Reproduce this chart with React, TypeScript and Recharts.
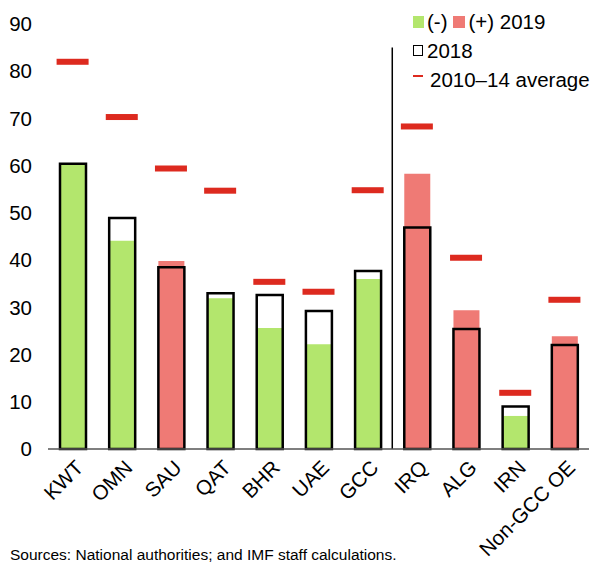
import React from 'react';
import {
  Bar,
  Cell,
  ComposedChart,
  ReferenceLine,
  Scatter,
  XAxis,
  YAxis,
} from 'recharts';

const categories = ['KWT', 'OMN', 'SAU', 'QAT', 'BHR', 'UAE', 'GCC', 'IRQ', 'ALG', 'IRN', 'Non-GCC OE'];
const values2019 = [60.2, 44.1, 39.8, 31.9, 25.6, 22.2, 36.0, 58.3, 29.4, 7.0, 23.9];
const values2018 = [60.4, 48.9, 38.5, 33.0, 32.6, 29.2, 37.7, 46.9, 25.4, 9.0, 22.0];
const average1014 = [82.0, 70.3, 59.4, 54.7, 35.4, 33.3, 54.8, 68.3, 40.5, 11.9, 31.6];
const yTicks = [0, 10, 20, 30, 40, 50, 60, 70, 80, 90];

const GREEN = '#b3e66d';
const RED = '#ef7a75';
const AVG_RED = '#dd2a1f';
const FONT = '"Liberation Sans", Arial, sans-serif';

const data = categories.map((name, i) => ({
  name,
  v2019: values2019[i],
  v2018: values2018[i],
  avg: average1014[i],
}));

const AvgMarker = (props: any) => {
  const { cx, cy } = props;
  if (cx == null || cy == null) return null;
  return <rect x={cx - 16} y={cy - 3} width={32} height={6} fill={AVG_RED} />;
};

const XTick = ({ x, y, payload }: any) => {
  const ax = x + 12;
  const ay = y + 12;
  return (
    <text
      x={ax}
      y={ay}
      transform={`rotate(-45, ${ax}, ${ay})`}
      textAnchor="end"
      fontSize={20.5}
      fontFamily={FONT}
      fill="#000"
    >
      {payload.value}
    </text>
  );
};

// legend drawn as plain html over the chart
const LegendBox = () => (
  <div
    style={{
      position: 'absolute',
      top: 7,
      left: 413,
      fontFamily: FONT,
      fontSize: 20.5,
      color: '#000',
      lineHeight: '29px',
      whiteSpace: 'nowrap',
    }}
  >
    <div style={{ display: 'flex', alignItems: 'center' }}>
      <span style={{ width: 11, height: 12, background: GREEN, display: 'inline-block', marginRight: 3 }} />
      <span>(-)</span>
      <span style={{ width: 12, height: 12, background: RED, display: 'inline-block', margin: '0 3px 0 6px' }} />
      <span>(+) 2019</span>
    </div>
    <div style={{ display: 'flex', alignItems: 'center' }}>
      <span style={{ width: 8, height: 9, border: '1.5px solid #000', display: 'inline-block', marginRight: 4 }} />
      <span>2018</span>
    </div>
    <div style={{ display: 'flex', alignItems: 'center' }}>
      <span style={{ width: 10, height: 2, background: AVG_RED, display: 'inline-block', margin: '0 7px 8px 0' }} />
      <span>2010–14 average</span>
    </div>
  </div>
);

export default function App() {
  return (
    <div style={{ position: 'relative', width: 598, height: 565, margin: '-8px 0 0 -8px', overflow: 'hidden', background: '#fff' }}>
      <ComposedChart
        width={598}
        height={565}
        data={data}
        margin={{ top: 24, right: 9, left: 8, bottom: 0 }}
        barSize={26}
        barGap={-26}
      >
        <XAxis
          dataKey="name"
          tick={<XTick />}
          tickLine={false}
          axisLine={{ stroke: '#555', strokeWidth: 1.5 }}
          interval={0}
          height={116}
        />
        <YAxis
          domain={[0, 90]}
          ticks={yTicks}
          interval={0}
          axisLine={false}
          tickLine={false}
          tickSize={0}
          tickMargin={16}
          width={40}
          tick={{ fontSize: 20.5, fill: '#000', fontFamily: FONT }}
        />
        <Bar dataKey="v2019" isAnimationActive={false}>
          {data.map((d, i) => (
            <Cell key={i} fill={d.v2019 > d.v2018 ? RED : GREEN} />
          ))}
        </Bar>
        <Bar dataKey="v2018" fill="none" stroke="#000" strokeWidth={2.5} isAnimationActive={false} />
        <Scatter dataKey="avg" shape={<AvgMarker />} isAnimationActive={false} />
        <ReferenceLine
          position="start"
          segment={[{ x: 'IRQ', y: 0 }, { x: 'IRQ', y: 85 }]}
          stroke="#000"
          strokeWidth={1.5}
        />
      </ComposedChart>
      <LegendBox />
      <div
        style={{
          position: 'absolute',
          left: 10,
          top: 546,
          fontFamily: FONT,
          fontSize: 15.5,
          lineHeight: '18px',
          whiteSpace: 'nowrap',
          color: '#000',
        }}
      >
        Sources: National authorities; and IMF staff calculations.
      </div>
    </div>
  );
}
